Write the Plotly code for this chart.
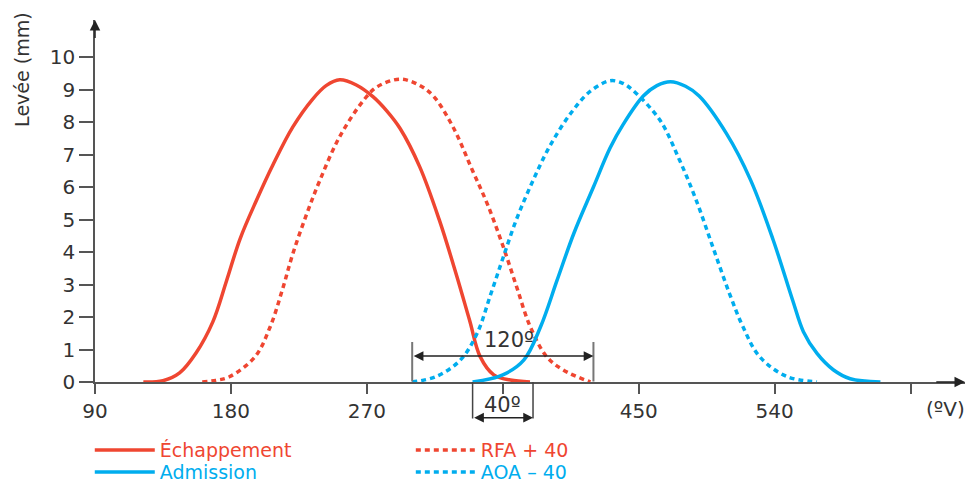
import plotly.graph_objects as go

# ---- data (crank angle in degrees, valve lift in mm) ----
ech_deg = [122, 135, 146, 157, 168, 177, 186, 197, 208, 221, 234, 243, 252, 263, 274, 283, 292, 305, 318, 329, 338, 345, 354, 365, 378]
ech_mm = [0, 0.04, 0.28, 0.9, 1.85, 3.1, 4.4, 5.6, 6.7, 7.85, 8.7, 9.12, 9.3, 9.14, 8.78, 8.35, 7.8, 6.62, 4.98, 3.34, 1.9, 0.78, 0.22, 0.06, 0]

rfa_deg = [161, 170, 179, 196, 206, 214, 221, 230, 239, 252, 268, 277, 292, 304, 314, 327, 340, 350, 360, 369, 378, 389, 400, 418]
rfa_mm = [0, 0.05, 0.16, 0.78, 1.7, 2.83, 3.95, 5.15, 6.22, 7.55, 8.68, 9.09, 9.32, 9.15, 8.8, 7.85, 6.5, 5.45, 4.2, 2.95, 1.72, 0.78, 0.37, 0]

adm_deg = [340, 360, 374, 385, 396, 407, 420, 431, 440, 453, 462, 471, 481, 490, 508, 524, 539, 552, 559, 568, 579, 590, 610]
adm_mm = [0, 0.22, 0.68, 1.7, 3.14, 4.57, 6.0, 7.2, 7.95, 8.8, 9.12, 9.24, 9.1, 8.8, 7.65, 6.22, 4.37, 2.5, 1.55, 0.88, 0.37, 0.1, 0]

aoa_deg = [300, 316, 332, 343, 352, 360, 369, 380, 391, 405, 418, 431, 439, 446, 464, 477, 488, 499, 510, 519, 530, 548, 568]
aoa_mm = [0, 0.17, 0.68, 1.5, 2.7, 3.8, 5.0, 6.2, 7.25, 8.27, 8.95, 9.27, 9.2, 8.98, 8.06, 6.83, 5.6, 4.16, 2.73, 1.7, 0.78, 0.17, 0]

x_ticks = [90, 180, 270, 360, 450, 540, 630]
x_ticktext = ["90", "180", "270", "", "450", "540", ""]
y_ticks = [0, 1, 2, 3, 4, 5, 6, 7, 8, 9, 10]

span_120 = (300, 420)   # 120° dimension
span_40 = (340, 380)    # 40° dimension

RED = "#EF4631"
BLUE = "#00ADEE"
TXT = "#333333"
AX = "#555555"
FONT = "DejaVu Sans"
DOT = "5px,4px"

fig = go.Figure()

def add(xs, ys, name, color, dash, legend):
    fig.add_trace(go.Scatter(
        x=xs, y=ys, mode="lines",
        line=dict(color=color, width=3.5, dash=dash, shape="spline", smoothing=1.0),
        name=f'<span style="color:{color}">{name}</span>',
        legend=legend, hoverinfo="skip",
    ))

add(ech_deg, ech_mm, "Échappement", RED, "solid", "legend")
add(rfa_deg, rfa_mm, "RFA + 40", RED, DOT, "legend2")
add(adm_deg, adm_mm, "Admission", BLUE, "solid", "legend3")
add(aoa_deg, aoa_mm, "AOA – 40", BLUE, DOT, "legend4")

X_MAX = 666
Y_MAX = 11.14

def py(v):
    """lift value -> paper y (for marks drawn below the x axis)"""
    return v / Y_MAX

ann = []
# axis arrow heads
ann.append(dict(x=X_MAX, y=0, ax=X_MAX - 20, ay=0, xref="x", yref="y", axref="x", ayref="y",
                text="", showarrow=True, arrowhead=2, arrowsize=1.4, arrowwidth=1.5, arrowcolor="#222"))
ann.append(dict(x=90, y=Y_MAX, ax=90, ay=Y_MAX - 0.6, xref="x", yref="y", axref="x", ayref="y",
                text="", showarrow=True, arrowhead=2, arrowsize=1.4, arrowwidth=1.5, arrowcolor="#222"))

# 120° dimension
for xv in span_120:
    ann.append(dict(x=xv, y=1.23, ax=xv, ay=-0.03, xref="x", yref="y", axref="x", ayref="y",
                    text="", showarrow=True, arrowhead=0, arrowwidth=2, arrowcolor="#777"))
ann.append(dict(x=span_120[1], y=0.8, ax=span_120[0], ay=0.8, xref="x", yref="y", axref="x", ayref="y",
                text="", showarrow=True, arrowhead=2, arrowside="end+start", arrowsize=1.3,
                arrowwidth=1.5, arrowcolor="#222"))
ann.append(dict(x=(span_120[0] + span_120[1]) / 2 + 4, y=1.3, xref="x", yref="y", text="120º",
                xanchor="center", yanchor="middle",
                showarrow=False, font=dict(family=FONT, size=21, color=TXT)))

# 40° dimension (below the axis)
for xv in span_40:
    ann.append(dict(x=xv, y=0, ax=xv, ay=-1.17, xref="x", yref="y", axref="x", ayref="y",
                    text="", showarrow=True, arrowhead=0, arrowwidth=1.5, arrowcolor="#444"))
ann.append(dict(x=span_40[1], y=py(-1.1), ax=span_40[0], ay=0, xref="x", yref="paper",
                axref="x", ayref="pixel",
                text="", showarrow=True, arrowhead=2, arrowside="end+start", arrowsize=1.3,
                arrowwidth=1.5, arrowcolor="#222"))
ann.append(dict(x=(span_40[0] + span_40[1]) / 2, y=py(-0.7), xref="x", yref="paper", text="40º",
                xanchor="center", yanchor="middle",
                showarrow=False, font=dict(family=FONT, size=21, color=TXT)))

# axis titles
ann.append(dict(x=-0.084, y=0.862, xref="paper", yref="paper", text="Levée (mm)", textangle=-90,
                xanchor="center", yanchor="middle",
                showarrow=False, font=dict(family=FONT, size=19, color=TXT)))
ann.append(dict(x=0.978, y=-0.075, xref="paper", yref="paper", text="(ºV)",
                xanchor="center", yanchor="middle",
                showarrow=False, font=dict(family=FONT, size=20, color=TXT)))

LEG = dict(xanchor="left", yanchor="top", orientation="v", bgcolor="rgba(0,0,0,0)",
           itemwidth=60, tracegroupgap=0, font=dict(family=FONT, size=19))
ROW1, ROW2 = -0.1357, -0.1965
COL1, COL2 = -0.006, 0.363

# page body adds an 8 px offset, so the figure is 8 px smaller than the window
fig.update_layout(
    width=968, height=477,
    margin=dict(l=87, r=11, t=12, b=103, autoexpand=False),
    plot_bgcolor="white", paper_bgcolor="white",
    showlegend=True,
    annotations=ann,
    xaxis=dict(range=[90, X_MAX], showline=True, linecolor=AX, linewidth=1.5,
               ticks="outside", ticklen=10, tickwidth=1.5, tickcolor=AX,
               tickvals=x_ticks, ticktext=x_ticktext, showgrid=False, zeroline=False,
               tickfont=dict(family=FONT, size=20, color=TXT)),
    yaxis=dict(range=[0, Y_MAX], showline=True, linecolor=AX, linewidth=1.5,
               ticks="outside", ticklen=14, tickwidth=1.5, tickcolor=AX,
               tickvals=y_ticks, showgrid=False, zeroline=False,
               tickfont=dict(family=FONT, size=20, color=TXT)),
    legend=dict(x=COL1, y=ROW1, **LEG),
    legend2=dict(x=COL2, y=ROW1, **LEG),
    legend3=dict(x=COL1, y=ROW2, **LEG),
    legend4=dict(x=COL2, y=ROW2, **LEG),
)

fig.write_html("out.html")
